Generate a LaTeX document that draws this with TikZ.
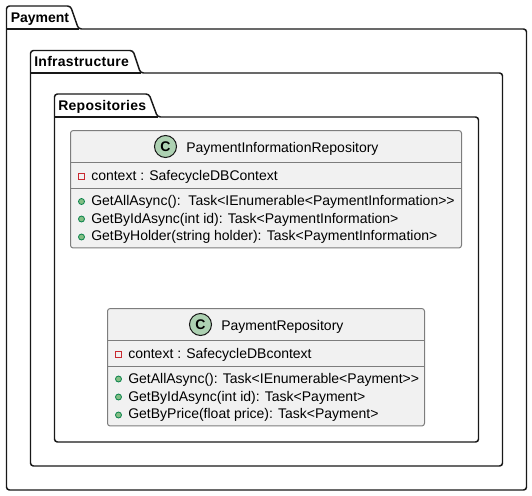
\documentclass[tikz,border=0pt]{standalone}
\usepackage{fontspec}
\setmainfont[Ligatures=TeXOff]{Liberation Sans}
\definecolor{linedark}{RGB}{24, 24, 24}
\definecolor{classgrey}{RGB}{241, 241, 241}
\definecolor{ruleg}{RGB}{125, 125, 125}
\definecolor{spotgreen}{RGB}{173, 209, 178}
\definecolor{pubfill}{RGB}{132, 190, 132}
\definecolor{publine}{RGB}{3, 128, 72}
\definecolor{privred}{RGB}{200, 41, 48}
\tikzset{
  folderline/.style={draw=linedark, line width=1.1pt, rounded corners=2.2pt},
  foldertitle/.style={anchor=base west, inner sep=0pt, font=\fontsize{10.5}{12}\selectfont\bfseries, text=black},
  widetitle/.style={foldertitle, font=\fontsize{10.5}{12}\selectfont\bfseries\addfontfeature{LetterSpace=2}},
  classbox/.style={draw=ruleg, fill=classgrey, line width=0.75pt, rounded corners=2pt, inner sep=0pt, outer sep=0pt},
  classrule/.style={draw=ruleg, line width=0.75pt},
  classspot/.style={circle, draw=linedark, fill=spotgreen, line width=0.75pt, minimum size=16.5pt, inner sep=0pt, font=\fontsize{10.5}{12}\selectfont\bfseries, text=black},
  classname/.style={anchor=base west, inner sep=0pt, font=\fontsize{10.5}{12}\selectfont, text=black},
  member/.style={anchor=base west, inner sep=0pt, font=\fontsize{10.5}{12}\selectfont, text=black},
  pubdot/.style={circle, draw=publine, fill=pubfill, line width=0.6pt, minimum size=4.5pt, inner sep=0pt},
  privsquare/.style={rectangle, draw=privred, line width=0.6pt, minimum size=4.5pt, inner sep=0pt}
}

\begin{document}
\begin{tikzpicture}[x=0.75pt, y=-0.75pt]
  \useasboundingbox (0, 0) rectangle (532, 496);

  % nested folders
  \draw[folderline] (6.5, 29) -- (6.5, 6) -- (70.5, 6) -- (78.5, 29) -- (526.5, 29) -- (526.5, 490) -- (6.5, 490) -- cycle;
  \draw[folderline, rounded corners=0pt] (6.5, 29) -- (78.5, 29);
  \node[foldertitle] (payment) at (10.5, 22.5) {Payment};

  \draw[folderline] (30.5, 73) -- (30.5, 50.5) -- (133, 50.5) -- (140.5, 73) -- (502.5, 73) -- (502.5, 466) -- (30.5, 466) -- cycle;
  \draw[folderline, rounded corners=0pt] (30.5, 73) -- (140.5, 73);
  \node[widetitle] (infrastructure) at (34, 66.5) {Infrastructure};

  \draw[folderline] (54.5, 117) -- (54.5, 94) -- (149, 94) -- (157.5, 117) -- (478.5, 117) -- (478.5, 442) -- (54.5, 442) -- cycle;
  \draw[folderline, rounded corners=0pt] (54.5, 117) -- (157.5, 117);
  \node[widetitle] (repositories) at (58, 110.5) {Repositories};

  % PaymentInformationRepository
  \node[classbox, minimum width=293.25pt, minimum height=88.1pt] (inforepo) at (266, 189.25) {};
  \draw[classrule] (inforepo.west |- 0, 162.5) -- (inforepo.east |- 0, 162.5);
  \draw[classrule] (inforepo.west |- 0, 188) -- (inforepo.east |- 0, 188);
  \node[classspot] (infospot) at (165.5, 146.5) {C};
  \node[classname] (infoname) at (186, 152) {PaymentInformationRepository};
  \node[privsquare] (infopriv) at (81.5, 176) {};
  \node[member] (infoctx) at (91, 180) {context : SafecycleDBContext};
  \node[pubdot] (infodota) at (81.5, 201.5) {};
  \node[member] (infoall) at (91, 205.5) {GetAllAsync():\ \ Task<IEnumerable<PaymentInformation>>};
  \node[pubdot] (infodotb) at (81.5, 219) {};
  \node[member] (infoid) at (91, 223) {GetByIdAsync(int id): Task<PaymentInformation>};
  \node[pubdot] (infodotc) at (81.5, 237) {};
  \node[member] (infoholder) at (91, 240.5) {GetByHolder(string holder): Task<PaymentInformation>};

  % PaymentRepository
  \node[classbox, minimum width=237.75pt, minimum height=88.1pt] (payrepo) at (266, 367.25) {};
  \draw[classrule] (payrepo.west |- 0, 340.5) -- (payrepo.east |- 0, 340.5);
  \draw[classrule] (payrepo.west |- 0, 366) -- (payrepo.east |- 0, 366);
  \node[classspot] (payspot) at (200.5, 324.5) {C};
  \node[classname] (payname) at (221, 330) {PaymentRepository};
  \node[privsquare] (paypriv) at (118.5, 354) {};
  \node[member] (payctx) at (128, 358) {context : SafecycleDBcontext};
  \node[pubdot] (paydota) at (118.5, 379) {};
  \node[member] (payall) at (128, 383.5) {GetAllAsync(): Task<IEnumerable<Payment>>};
  \node[pubdot] (paydotb) at (118.5, 397) {};
  \node[member] (payid) at (128, 401) {GetByIdAsync(int id): Task<Payment>};
  \node[pubdot] (paydotc) at (118.5, 415) {};
  \node[member] (payprice) at (128, 418.5) {GetByPrice(float price): Task<Payment>};
\end{tikzpicture}
\end{document}
